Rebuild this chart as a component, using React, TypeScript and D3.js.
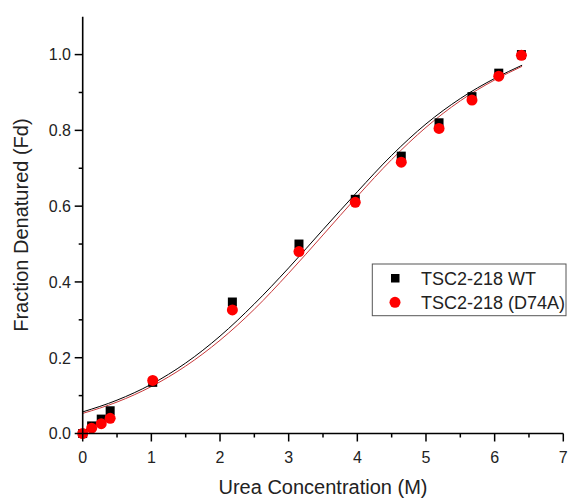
import React from "react";
import * as d3 from "d3";

const urea = [0, 0.13, 0.27, 0.4, 1.02, 2.18, 3.15, 3.97, 4.64, 5.19, 5.67, 6.06, 6.39];
const wtFd = [0.0, 0.02, 0.038, 0.06, 0.135, 0.347, 0.5, 0.618, 0.732, 0.82, 0.889, 0.951, 1.0];
const d74aFd = [0.0, 0.014, 0.026, 0.04, 0.14, 0.326, 0.48, 0.61, 0.716, 0.805, 0.88, 0.943, 0.998];

const fitX = [0, 0.5, 1.0, 1.5, 2.0, 2.5, 3.0, 3.5, 4.0, 4.5, 5.0, 5.5, 6.0, 6.4];
const wtFit = [0.057, 0.088, 0.13, 0.186, 0.257, 0.342, 0.437, 0.538, 0.638, 0.734, 0.817, 0.884, 0.937, 0.972];
const d74aFit = [0.053, 0.083, 0.124, 0.178, 0.246, 0.328, 0.423, 0.524, 0.626, 0.723, 0.808, 0.878, 0.933, 0.969];

const xTicks = [0, 1, 2, 3, 4, 5, 6, 7];
const xMinor = [0.5, 1.5, 2.5, 3.5, 4.5, 5.5, 6.5];
const yTicks = [0, 0.2, 0.4, 0.6, 0.8, 1.0];
const yMinor = [0.1, 0.3, 0.5, 0.7, 0.9];

const legendLabels = ["TSC2-218 WT", "TSC2-218 (D74A)"];

const W = 569;
const H = 498;
const left = 82.7;
const right = 563.3;
const bottom = 433.5;
const top = 16.7;
const FONT = "'Liberation Sans', Arial, sans-serif";

export default function App() {
  const x = d3.scaleLinear().domain([0, 7]).range([left, right]);
  const y = d3.scaleLinear().domain([0, 1.1]).range([bottom, top]);
  const line = d3
    .line<number>()
    .x((_, i) => x(fitX[i]))
    .y((d) => y(d))
    .curve(d3.curveMonotoneX);

  return (
    <svg
      width={W}
      height={H}
      style={{ position: "absolute", left: 0, top: 0, background: "#fff" }}
      fontFamily={FONT}
    >
      {/* fits */}
      <path d={line(wtFit) || ""} fill="none" stroke="#000" strokeWidth={1} />
      <path d={line(d74aFit) || ""} fill="none" stroke="#c8383a" strokeWidth={1} />

      {/* WT squares */}
      {urea.map((u, i) => (
        <rect key={"s" + i} x={x(u) - 4.5} y={y(wtFd[i]) - 4.5} width={9} height={9} fill="#000" />
      ))}
      {/* D74A circles */}
      {urea.map((u, i) => (
        <circle key={"c" + i} cx={x(u)} cy={y(d74aFd[i])} r={5.5} fill="#ff0000" />
      ))}

      {/* axes */}
      <line x1={left} x2={left} y1={top} y2={bottom} stroke="#000" strokeWidth={1.6} />
      <line x1={left} x2={right} y1={bottom} y2={bottom} stroke="#000" strokeWidth={1.6} />
      {xTicks.map((t) => (
        <g key={"xt" + t}>
          <line x1={x(t)} x2={x(t)} y1={bottom} y2={bottom + 8} stroke="#000" strokeWidth={1.5} />
          <text x={x(t)} y={463} fontSize={16} textAnchor="middle" fill="#222">
            {t}
          </text>
        </g>
      ))}
      {xMinor.map((t) => (
        <line key={"xm" + t} x1={x(t)} x2={x(t)} y1={bottom} y2={bottom + 4} stroke="#000" strokeWidth={1.5} />
      ))}
      {yTicks.map((t) => (
        <g key={"yt" + t}>
          <line x1={left - 8} x2={left} y1={y(t)} y2={y(t)} stroke="#000" strokeWidth={1.5} />
          <text x={71} y={y(t) + 5.8} fontSize={16} textAnchor="end" fill="#222">
            {t.toFixed(1)}
          </text>
        </g>
      ))}
      {yMinor.map((t) => (
        <line key={"ym" + t} x1={left - 4} x2={left} y1={y(t)} y2={y(t)} stroke="#000" strokeWidth={1.5} />
      ))}

      {/* axis titles */}
      <text x={(left + right) / 2} y={494} fontSize={20} textAnchor="middle" fill="#222">
        Urea Concentration (M)
      </text>
      <text
        transform={`translate(28,${(top + bottom) / 2}) rotate(-90)`}
        fontSize={20}
        textAnchor="middle"
        fill="#222"
      >
        Fraction Denatured (Fd)
      </text>

      {/* legend */}
      <rect x={372.3} y={264} width={193.7} height={51.7} fill="#fff" stroke="#555" strokeWidth={1} />
      <rect x={391} y={274} width={8.5} height={8.5} fill="#000" />
      <circle cx={395} cy={302.3} r={5.5} fill="#ff0000" />
      <text x={421} y={284.5} fontSize={18} fill="#222">
        {legendLabels[0]}
      </text>
      <text x={421} y={308.5} fontSize={18} fill="#222">
        {legendLabels[1]}
      </text>
    </svg>
  );
}
